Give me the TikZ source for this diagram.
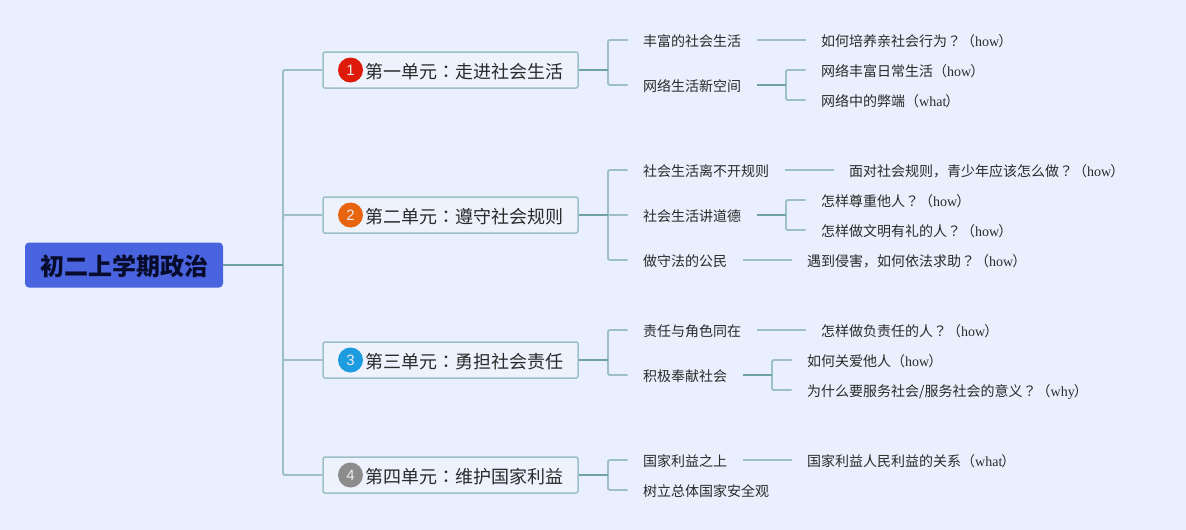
\documentclass[tikz,border=0pt]{standalone}
\usepackage{fontspec}
\setmainfont{Liberation Serif}
\newfontfamily\cjk{Noto Sans CJK SC}
\newfontfamily\cjktc{Noto Sans CJK TC}
\newfontfamily\numfont{Liberation Sans}
\definecolor{bgc}{HTML}{E9EFFD}
\definecolor{rootc}{HTML}{4A63DE}
\definecolor{rootline}{HTML}{6FA3A3}
\definecolor{branch}{HTML}{9CC0C6}
\definecolor{unitedge}{HTML}{9CC0C6}
\definecolor{ink}{HTML}{2A2A2A}
\definecolor{rootink}{HTML}{080C2C}
\definecolor{ic1}{HTML}{DE1B0A}
\definecolor{ic2}{HTML}{E8650F}
\definecolor{ic3}{HTML}{1D9BE0}
\definecolor{ic4}{HTML}{8C8C8C}
\tikzset{
  leaf/.style={anchor=west,inner xsep=15.5pt,inner ysep=0pt,text height=13pt,text depth=0.4pt,
    font=\cjk\fontsize{14}{14}\selectfont,text=ink},
  unitbox/.style={draw=unitedge,line width=1.5pt,fill=bgc!80!white,rounded corners=2pt,
    minimum width=255pt,minimum height=36pt,inner sep=0pt},
  unittext/.style={anchor=west,inner sep=0pt,text height=16.5pt,text depth=0.5pt,
    font=\cjk\fontsize{18}{18}\selectfont,text=ink},
  icon/.style={circle,minimum size=25pt,inner sep=0pt,text=white!85!gray,
    font=\numfont\fontsize{15}{15}\selectfont},
  rootbox/.style={fill=rootc,rounded corners=4pt,minimum width=198pt,minimum height=45pt,inner sep=0pt,
    text height=21pt,text depth=0pt,text=rootink,font=\cjk\fontsize{24}{24}\selectfont\bfseries},
  main/.style={draw=rootline,line width=2pt},
  twig/.style={draw=branch,line width=1.8pt,rounded corners=1.5pt},
  stem/.style={draw=rootline,line width=1.8pt},
}
\newcommand{\lat}[1]{{\rmfamily\fontsize{14}{14}\selectfont #1}}
\newcommand{\colonc}{{\cjktc ：}}
\newcommand{\qm}{{\cjktc ？}}
\newcommand{\tail}[1]{（\lat{#1}\hspace{-1pt}）}
\begin{document}
\begin{tikzpicture}[x=1pt,y=-1pt]
\useasboundingbox (0,0) rectangle (1186,530);
\fill[bgc] (0,0) rectangle (1186,530);

\node[rootbox] (root) at (124,265) {初二上学期政治};

% units
\node[unitbox] (u1) at (450.5,70) {};
\node[unitbox] (u2) at (450.5,215) {};
\node[unitbox] (u3) at (450.5,360) {};
\node[unitbox] (u4) at (450.5,475) {};
\node[icon,fill=ic1] (i1) at (350.5,70) {1};
\node[icon,fill=ic2] (i2) at (350.5,215) {2};
\node[icon,fill=ic3] (i3) at (350.5,360) {3};
\node[icon,fill=ic4] (i4) at (350.5,475) {4};
\node[unittext] (t1) at (365,70) {第一单元\colonc 走进社会生活};
\node[unittext] (t2) at (365,215) {第二单元\colonc 遵守社会规则};
\node[unittext] (t3) at (365,360) {第三单元\colonc 勇担社会责任};
\node[unittext] (t4) at (365,475) {第四单元\colonc 维护国家利益};

% junctions
\coordinate (trunk) at (283,265);
\coordinate (j1) at (608,70);
\coordinate (j2) at (608,215);
\coordinate (j3) at (608,360);
\coordinate (j4) at (608,475);
\coordinate (k12) at (786,85);
\coordinate (k22) at (786,215);
\coordinate (k32) at (772,375);

% level 2
\node[leaf] (a11) at (627.5,40) {丰富的社会生活};
\node[leaf] (a12) at (627.5,85) {网络生活新空间};
\node[leaf] (a21) at (627.5,170) {社会生活离不开规则};
\node[leaf] (a22) at (627.5,215) {社会生活讲道德};
\node[leaf] (a23) at (627.5,260) {做守法的公民};
\node[leaf] (a31) at (627.5,330) {责任与角色同在};
\node[leaf] (a32) at (627.5,375) {积极奉献社会};
\node[leaf] (a41) at (627.5,460) {国家利益之上};
\node[leaf] (a42) at (627.5,490) {树立总体国家安全观};

% level 3
\node[leaf] (b111) at (805.5,40) {如何培养亲社会行为\qm\tail{how}};
\node[leaf] (b121) at (805.5,70) {网络丰富日常生活\tail{how}};
\node[leaf] (b122) at (805.5,100) {网络中的弊端\tail{what}};
\node[leaf] (b211) at (833.5,170) {面对社会规则，青少年应该怎么做\qm\tail{how}};
\node[leaf] (b221) at (805.5,200) {怎样尊重他人\qm\tail{how}};
\node[leaf] (b222) at (805.5,230) {怎样做文明有礼的人\qm\tail{how}};
\node[leaf] (b231) at (791.5,260) {遇到侵害，如何依法求助\qm\tail{how}};
\node[leaf] (b311) at (805.5,330) {怎样做负责任的人\qm\tail{how}};
\node[leaf] (b321) at (791.5,360) {如何关爱他人\tail{how}};
\node[leaf] (b322) at (791.5,390) {为什么要服务社会/服务社会的意义\qm\tail{why}};
\node[leaf] (b411) at (791.5,460) {国家利益人民利益的关系\tail{what}};

% trunk connectors
\draw[twig] (trunk) |- (u1.west);
\draw[twig] (trunk) |- (u2.west);
\draw[twig] (trunk) |- (u3.west);
\draw[twig] (trunk) |- (u4.west);
\draw[main] (root.east) -- (trunk);

% unit to level 2
\draw[twig] (j1) |- (a11.west);
\draw[twig] (j1) |- (a12.west);
\draw[stem] (u1.east) -- (j1);
\draw[twig] (j2) |- (a21.west);
\draw[twig] (j2) -- (a22.west);
\draw[twig] (j2) |- (a23.west);
\draw[stem] (u2.east) -- (j2);
\draw[twig] (j3) |- (a31.west);
\draw[twig] (j3) |- (a32.west);
\draw[stem] (u3.east) -- (j3);
\draw[twig] (j4) |- (a41.west);
\draw[twig] (j4) |- (a42.west);
\draw[stem] (u4.east) -- (j4);

% level 2 to level 3
\draw[twig] (a11.east) -- (b111.west);
\draw[twig] (k12) |- (b121.west);
\draw[twig] (k12) |- (b122.west);
\draw[stem] (a12.east) -- (k12);
\draw[twig] (a21.east) -- (b211.west);
\draw[twig] (k22) |- (b221.west);
\draw[twig] (k22) |- (b222.west);
\draw[stem] (a22.east) -- (k22);
\draw[twig] (a23.east) -- (b231.west);
\draw[twig] (a31.east) -- (b311.west);
\draw[twig] (k32) |- (b321.west);
\draw[twig] (k32) |- (b322.west);
\draw[stem] (a32.east) -- (k32);
\draw[twig] (a41.east) -- (b411.west);
\end{tikzpicture}
\end{document}
